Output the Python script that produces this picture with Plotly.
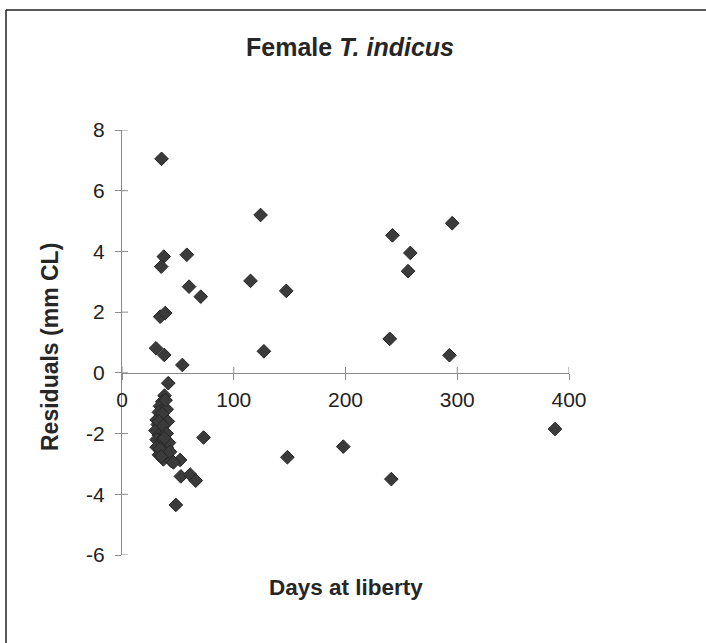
import plotly.graph_objects as go

# Days at liberty and residuals (mm CL)
days = [35.4, 37.4, 35.1, 58, 60, 70.5, 34.2, 38.7, 30.4, 37.8, 54,
        124, 115, 147, 127,
        295.5, 242, 258, 256, 239.6, 293,
        148, 198, 241, 387.5,
        41.4, 73, 52, 52.7, 61, 66, 48.2,
        38, 36, 34, 37, 33, 35, 31, 38, 32, 35, 30, 37, 33, 31, 36, 34, 39,
        31, 35, 38, 33, 40, 42, 37, 44, 41, 40, 39, 42,
        39, 36, 33, 34, 37, 40, 35, 38, 43, 46]
residuals = [7.05, 3.83, 3.5, 3.89, 2.84, 2.51, 1.85, 1.97, 0.81, 0.59, 0.26,
             5.2, 3.03, 2.70, 0.71,
             4.93, 4.53, 3.95, 3.35, 1.12, 0.58,
             -2.78, -2.43, -3.50, -1.85,
             -0.34, -2.13, -2.87, -3.41, -3.35, -3.55, -4.35,
             -0.75, -0.95, -1.1, -1.2, -1.3, -1.45, -1.55, -1.5, -1.7, -1.8, -1.9, -1.95,
             -2.05, -2.2, -2.2, -2.35, -2.3, -2.45, -2.55, -2.6, -2.7, -2.45, -2.8,
             -2.85, -2.9, -1.6, -1.2, -2.0, -2.3,
             -0.9, -1.35, -1.6, -2.5, -1.75, -2.0, -2.75, -2.15, -2.6, -2.95]

x_ticks = [0, 100, 200, 300, 400]
x_tick_labels = ["0", "100", "200", "300", "400"]
y_ticks = [-6, -4, -2, 0, 2, 4, 6, 8]
y_tick_labels = ["-6", "-4", "-2", "0", "2", "4", "6", "8"]

title_text = "<b>Female <i>T. indicus</i></b>"
x_title = "<b>Days at liberty</b>"
y_title = "<b>Residuals (mm CL)</b>"

FONT = "Liberation Sans, Arial, sans-serif"
AX = "#8a8a8a"

fig = go.Figure()
fig.add_trace(go.Scatter(
    x=days, y=residuals, mode="markers",
    marker=dict(symbol="diamond", size=10.5, color="#3b3b3b",
                line=dict(color="#262626", width=1)),
    cliponaxis=False, showlegend=False))

shapes = []
# inner halves of the crossing tick marks (outer halves are axis ticks)
for t in x_ticks:
    shapes.append(dict(type="line", xref="x", yref="y",
                       ysizemode="pixel", yanchor=0, x0=t, x1=t, y0=0, y1=6,
                       line=dict(color=AX, width=1)))
for t in y_ticks:
    shapes.append(dict(type="line", xref="x", yref="y", xsizemode="pixel",
                       xanchor=0, x0=0, x1=6, y0=t, y1=t,
                       line=dict(color=AX, width=1)))
# outer frame (left and top edges)
shapes.append(dict(type="line", xref="paper", yref="paper",
                   x0=(6 - 122) / 447, x1=(6 - 122) / 447,
                   y0=(555 - 650) / 425, y1=(555 - 10) / 425,
                   line=dict(color="#222", width=1.5)))
shapes.append(dict(type="line", xref="paper", yref="paper",
                   x0=(6 - 122) / 447, x1=(710 - 122) / 447,
                   y0=(555 - 10) / 425, y1=(555 - 10) / 425,
                   line=dict(color="#222", width=1.5)))

fig.update_layout(
    width=706, height=643,
    margin=dict(l=122, r=137, t=130, b=88),
    paper_bgcolor="white", plot_bgcolor="white",
    font=dict(family=FONT, color="#222", size=21),
    title=dict(text=title_text, x=350 / 706, xanchor="center",
               y=1 - 47 / 643, yanchor="middle", yref="container",
               font=dict(size=25, family=FONT, color="#262626")),
    xaxis=dict(range=[0, 400], tickvals=x_ticks, ticktext=x_tick_labels,
               ticks="outside", ticklen=6, tickcolor=AX, showgrid=False,
               zeroline=False, showline=True, linecolor=AX, linewidth=1,
               anchor="free", position=6 / 14, ticklabelstandoff=2,
               tickfont=dict(size=21, family=FONT, color="#222")),
    yaxis=dict(range=[-6, 8], tickvals=y_ticks, ticktext=y_tick_labels,
               ticks="outside", ticklen=6, tickcolor=AX, showgrid=False,
               zeroline=False, showline=True, linecolor=AX, linewidth=1,
               domain=[0, 1], ticklabelstandoff=6,
               tickfont=dict(size=21, family=FONT, color="#222")),
    shapes=shapes,
    annotations=[
        dict(text=x_title, xref="paper", yref="paper", x=0.5,
             y=(555 - 587) / 425, xanchor="center", yanchor="middle",
             showarrow=False, font=dict(size=22.5, family=FONT, color="#262626")),
        dict(text=y_title, xref="paper", yref="paper", x=(50 - 122) / 447,
             y=(555 - 347) / 425, xanchor="center", yanchor="middle",
             textangle=-90, showarrow=False,
             font=dict(size=23, family=FONT, color="#262626")),
    ],
)

fig.write_html("out.html")
